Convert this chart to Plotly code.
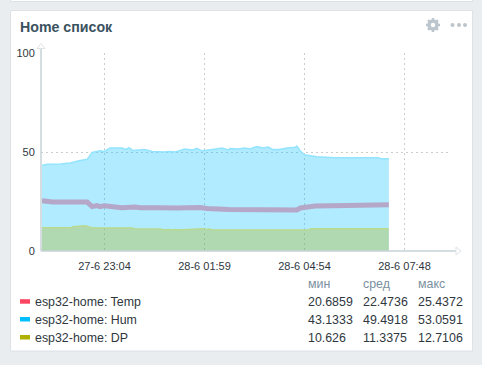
import math
import pandas as pd
import plotly.graph_objects as go

START = pd.Timestamp("2021-06-27 21:14:36")

hum_minutes = [0, 9, 32, 49, 63, 79, 88, 102, 109, 119, 140, 147, 152, 159, 179, 193, 207, 212, 224, 233,
               250, 264, 271, 280, 298, 315, 326, 329, 343, 355, 364, 376, 387, 396, 404, 415, 429, 443,
               446, 452, 459, 474, 481, 513, 588, 593, 607]
hum_values = [43.2, 43.8, 44.0, 44.5, 45.5, 46.3, 49.8, 50.6, 50.3, 52.0, 52.0, 51.3, 52.2, 50.8, 51.3, 50.3,
              50.1, 50.0, 50.2, 50.0, 51.5, 51.0, 51.8, 50.6, 51.3, 52.0, 51.0, 51.7, 51.5, 52.0, 51.5, 52.7,
              52.0, 52.5, 51.2, 51.3, 52.0, 52.4, 53.0, 50.5, 48.6, 48.1, 47.6, 47.1, 47.1, 46.6, 46.6]

temp_minutes = [0, 19, 79, 88, 96, 102, 109, 122, 140, 163, 172, 207, 233, 236, 277, 289, 326, 350, 376, 417,
                446, 452, 464, 478, 534, 607]
temp_values = [25.4, 24.7, 24.7, 22.4, 22.9, 22.4, 22.9, 22.4, 21.9, 22.2, 21.9, 21.9, 21.2, 21.7, 22.0, 21.5,
               21.0, 21.0, 20.7, 20.9, 20.7, 21.7, 22.4, 22.7, 23.0, 23.4]

dp_minutes = [0, 51, 54, 75, 88, 158, 163, 207, 215, 221, 228, 233, 238, 271, 282, 289, 292, 299, 417, 466,
              471, 607]
dp_values = [11.8, 11.8, 12.3, 12.7, 11.6, 11.6, 11.1, 11.1, 10.6, 10.9, 10.6, 10.9, 10.6, 11.3, 11.3, 10.9,
             11.1, 10.6, 10.6, 10.6, 11.3, 11.3]

tick_times = ["2021-06-27 23:04", "2021-06-28 01:59", "2021-06-28 04:54", "2021-06-28 07:49"]
tick_labels = ["27-6 23:04", "28-6 01:59", "28-6 04:54", "28-6 07:48"]
y_ticks = [0, 50, 100]

legend_names = ["esp32-home: Temp", "esp32-home: Hum", "esp32-home: DP"]
legend_colors = ["#ff4560", "#00bfff", "#b0b000"]
col_headers = ["мин", "сред", "макс"]
col_mins = ["20.6859", "43.1333", "10.626"]
col_avgs = ["22.4736", "49.4918", "11.3375"]
col_maxs = ["25.4372", "53.0591", "12.7106"]

W, H = 482, 365
L, R, T, B = 41, 450, 53, 251
FONT = "Liberation Sans, Arial, sans-serif"
BG = "#e9edf0"
BORDER = "#dde2e5"
AXIS = "#c9d2d7"
TEXT = "#2f3740"
ICON = "#bcc6cc"


def px(x):
    return (x - L) / (R - L)


def py(y):
    return (B - y) / (B - T)


def times(minutes):
    return [START + pd.Timedelta(minutes=m) for m in minutes]


fig = go.Figure()
fig.add_trace(go.Scatter(x=times(hum_minutes), y=hum_values, mode="lines", fill="tozeroy",
                         fillcolor="rgba(0,191,255,0.31)", line=dict(color="#93e4ff", width=1.5),
                         showlegend=False, hoverinfo="skip"))
fig.add_trace(go.Scatter(x=times(dp_minutes), y=dp_values, mode="lines", fill="tozeroy",
                         fillcolor="rgba(176,176,0,0.3)", line=dict(color="#b9d98f", width=1.5),
                         showlegend=False, hoverinfo="skip"))
fig.add_trace(go.Scatter(x=times(temp_minutes), y=temp_values, mode="lines",
                         line=dict(color="#b4a7c8", width=5),
                         showlegend=False, hoverinfo="skip"))


def rect(x0, y0, x1, y1, fill, line=None):
    return dict(type="rect", xref="paper", yref="paper", x0=px(x0), x1=px(x1), y0=py(y0), y1=py(y1),
                fillcolor=fill, line=dict(color=line or fill, width=1 if line else 0), layer="below")


def text(x, y, s, size=12.4, color=TEXT, anchor="left", bold=False, font=FONT):
    fig.add_annotation(xref="paper", yref="paper", x=px(x), y=py(y), text=f"<b>{s}</b>" if bold else s,
                       showarrow=False, xanchor=anchor, yanchor="middle", borderpad=0, borderwidth=0,
                       font=dict(family=font, size=size, color=color))


shapes = [
    rect(10.5, -5, 472.5, 1.5, "#ffffff", BORDER),
    rect(10.5, 10.5, 472.5, 351, "#ffffff", BORDER),
    dict(type="line", xref="paper", yref="paper", x0=px(41), x1=px(41), y0=py(251), y1=py(48),
         line=dict(color=AXIS, width=1.5)),
    dict(type="line", xref="paper", yref="paper", x0=px(41), x1=px(456), y0=py(251), y1=py(251),
         line=dict(color=AXIS, width=1.5)),
    dict(type="path", xref="paper", yref="paper",
         path=f"M {px(41)} {py(43.5)} L {px(45)} {py(48.5)} L {px(37)} {py(48.5)} Z",
         fillcolor="#ffffff", line=dict(color="#dfe3e6", width=1)),
    dict(type="path", xref="paper", yref="paper",
         path=f"M {px(461)} {py(251)} L {px(456)} {py(247)} L {px(456)} {py(255)} Z",
         fillcolor="#ffffff", line=dict(color="#dfe3e6", width=1)),
]
for dot_x in (452.5, 459, 465):
    shapes.append(dict(type="circle", xref="paper", yref="paper", x0=px(dot_x - 2), x1=px(dot_x + 2),
                       y0=py(27), y1=py(23), fillcolor=ICON, line=dict(width=0)))

# gear icon: ring and eight teeth
GX, GY = 433, 25
shapes.append(dict(type="circle", xref="paper", yref="paper", x0=px(GX - 4), x1=px(GX + 4),
                   y0=py(GY + 4), y1=py(GY - 4), fillcolor="rgba(0,0,0,0)",
                   line=dict(color=ICON, width=3.5)))
for k in range(8):
    a = k * math.pi / 4
    shapes.append(dict(type="line", xref="paper", yref="paper",
                       x0=px(GX + 4.5 * math.cos(a)), x1=px(GX + 7 * math.cos(a)),
                       y0=py(GY + 4.5 * math.sin(a)), y1=py(GY + 7 * math.sin(a)),
                       line=dict(color=ICON, width=2.5)))

row_y = [301.7, 319.5, 337.5]
for y, c in zip(row_y, legend_colors):
    shapes.append(rect(20, y - 2.5, 30, y + 2, c))

text(20, 27.5, "Home список", size=14.2, color="#3a5160", bold=True)

for x, h in zip((308, 363, 418), col_headers):
    text(x, 284, h, color="#7b90a0")
for y, name, a, b, c in zip(row_y, legend_names, col_mins, col_avgs, col_maxs):
    text(34.5, y, name)
    text(308, y, a)
    text(363, y, b)
    text(418, y, c)

fig.update_layout(
    width=W, height=H, autosize=False, paper_bgcolor=BG, plot_bgcolor="rgba(0,0,0,0)",
    margin=dict(l=L, r=W - R, t=T, b=H - B, pad=0),
    shapes=shapes, showlegend=False,
    xaxis=dict(type="date",
               range=[START - pd.Timedelta(minutes=1.75), START + pd.Timedelta(minutes=714)],
               tickmode="array", tickvals=tick_times, ticktext=tick_labels,
               showgrid=True, gridcolor="#c9cdd0", griddash="2px,3px", gridwidth=1,
               zeroline=False, showline=False, ticks="outside", ticklen=5, tickcolor="rgba(0,0,0,0)",
               tickfont=dict(family=FONT, size=11, color=TEXT), tickangle=0, automargin=False),
    yaxis=dict(range=[0, 100], tickmode="array", tickvals=y_ticks,
               showgrid=True, gridcolor="#c9cdd0", griddash="2px,3px", gridwidth=1,
               zeroline=False, showline=False, ticks="outside", ticklen=3, tickcolor="rgba(0,0,0,0)",
               tickfont=dict(family=FONT, size=11, color=TEXT), automargin=False),
)

fig.write_html("out.html", config=dict(displayModeBar=False),
               post_script="document.body.style.margin='0';")
